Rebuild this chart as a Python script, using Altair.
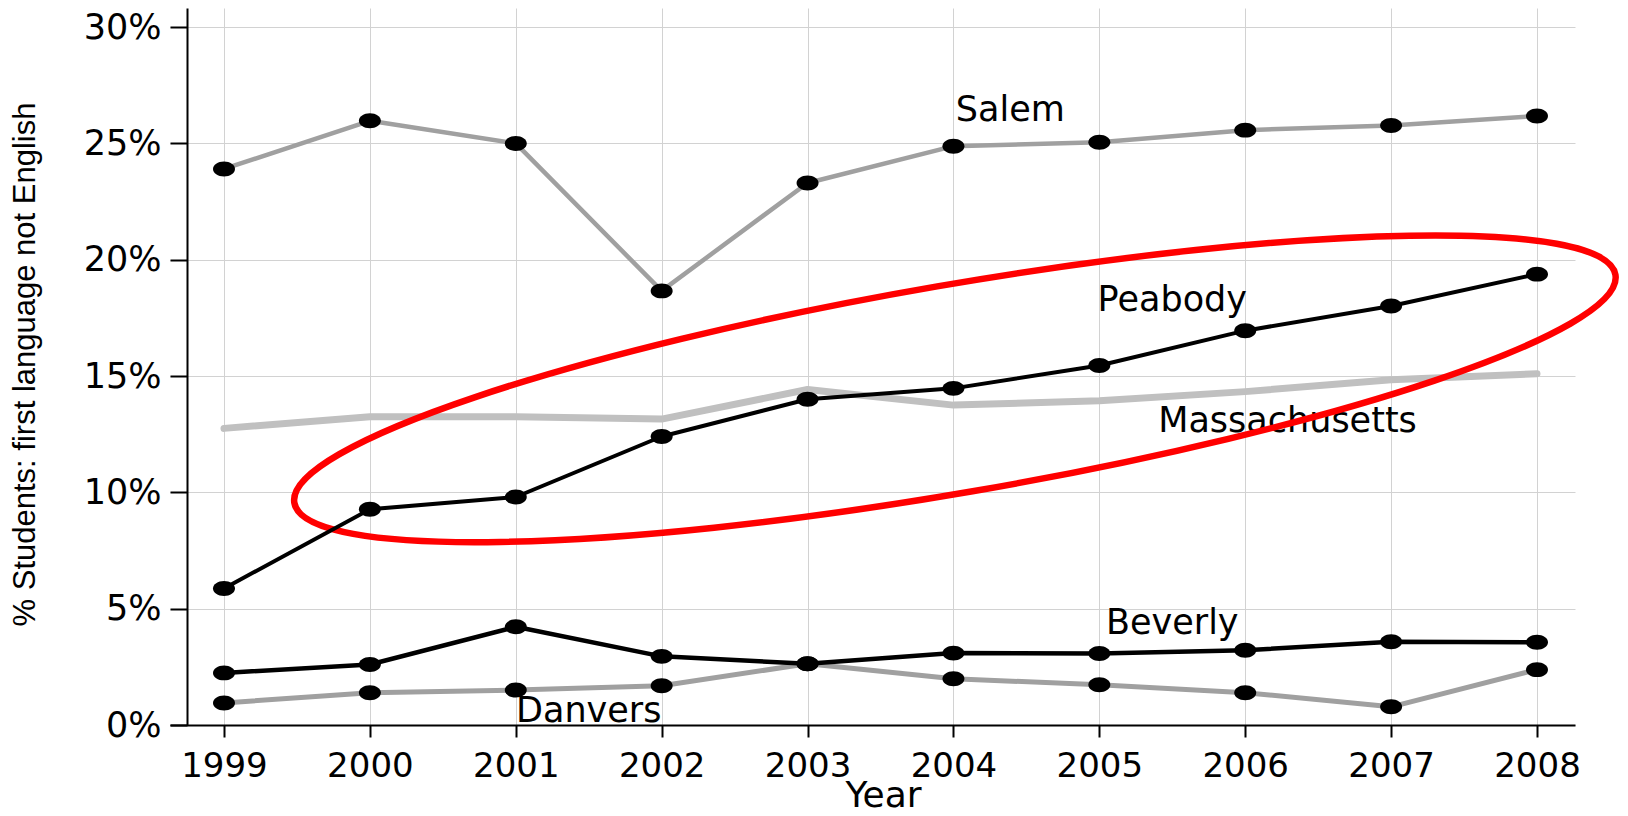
import altair as alt
import pandas as pd

# ---------------- data ----------------
years = [1999, 2000, 2001, 2002, 2003, 2004, 2005, 2006, 2007, 2008]
salem = [23.9, 25.97, 25.0, 18.66, 23.3, 24.88, 25.05, 25.57, 25.77, 26.18]
peabody = [5.87, 9.27, 9.8, 12.4, 14.0, 14.47, 15.45, 16.95, 18.01, 19.38]
massachusetts = [12.75, 13.25, 13.25, 13.15, 14.42, 13.75, 13.94, 14.33, 14.84, 15.1]
beverly = [2.24, 2.6, 4.22, 2.95, 2.63, 3.09, 3.07, 3.21, 3.58, 3.56]
danvers = [0.95, 1.39, 1.5, 1.69, 2.63, 1.99, 1.73, 1.39, 0.78, 2.38]

series_names = ["Massachusetts", "Salem", "Danvers", "Beverly", "Peabody"]
series_values = [massachusetts, salem, danvers, beverly, peabody]

y_ticks = [0, 5, 10, 15, 20, 25, 30]

# series name labels (anchor in data coordinates)
label_names = ["Salem", "Peabody", "Massachusetts", "Beverly", "Danvers"]
label_year = [2004.39, 2005.5, 2006.29, 2005.5, 2001.5]
label_pct = [26.42, 18.27, 13.05, 4.38, 0.62]

# red highlight ring centre (data coordinates)
ring_year = [2004.01]
ring_pct = [14.45]

rows = []
for name, vals in zip(series_names, series_values):
    for yr, v in zip(years, vals):
        rows.append({"series": name, "year": yr, "pct": v})
df = pd.DataFrame(rows)
labels_df = pd.DataFrame({"name": label_names, "year": label_year, "pct": label_pct})
ring_df = pd.DataFrame({"year": ring_year, "pct": ring_pct})

# ---------------- shapes ----------------
K = 0.5523


def ellipse_path(rx, ry):
    f = lambda v: f"{v:.4f}"
    return (
        f"M{f(rx)},0 C{f(rx)},{f(K*ry)} {f(K*rx)},{f(ry)} 0,{f(ry)} "
        f"C{f(-K*rx)},{f(ry)} {f(-rx)},{f(K*ry)} {f(-rx)},0 "
        f"C{f(-rx)},{f(-K*ry)} {f(-K*rx)},{f(-ry)} 0,{f(-ry)} "
        f"C{f(K*rx)},{f(-ry)} {f(rx)},{f(-K*ry)} {f(rx)},0 Z"
    )


marker_shape = ellipse_path(1, 0.68)
ring_shape = ellipse_path(1, 0.1551)

# ---------------- scales / axes ----------------
x_scale = alt.Scale(domain=[1998.6299, 2008.2605], nice=False, zero=False)
y_scale = alt.Scale(domain=[0, 30.82], nice=False, zero=True)

x_axis = alt.Axis(
    values=years, format="d", title="Year",
    grid=True, gridColor="#d2d2d2", gridWidth=1,
    domainColor="black", domainWidth=2,
    tickColor="black", tickWidth=2, tickSize=12,
    labelFont="DejaVu Sans", labelFontSize=34, labelColor="black",
    labelPadding=12, labelFlush=False, labelOverlap=False,
    titleFont="DejaVu Sans", titleFontSize=36, titleFontWeight="normal",
    titleColor="black", titleX=713, titleY=81,
    titleAlign="center", titleBaseline="alphabetic",
)
y_axis = alt.Axis(
    values=y_ticks, labelExpr="datum.value + '%'",
    title="% Students: first language not English",
    offset=-17,
    grid=True, gridColor="#d2d2d2", gridWidth=1,
    domainColor="black", domainWidth=2,
    tickColor="black", tickWidth=2, tickSize=17,
    labelFont="DejaVu Sans", labelFontSize=35, labelColor="black",
    labelPadding=9, labelOverlap=False,
    titleFont="Liberation Sans", titleFontSize=31, titleFontWeight="normal",
    titleColor="black", titleX=-162, titleY=356, titleAngle=270,
    titleAlign="center", titleBaseline="middle",
)

X = alt.X("year:Q", scale=x_scale, axis=x_axis)
Y = alt.Y("pct:Q", scale=y_scale, axis=y_axis)

base = alt.Chart(df).encode(x=X, y=Y)


def line(name, color, width):
    return base.transform_filter(alt.datum.series == name).mark_line(
        color=color, strokeWidth=width, strokeCap="round", strokeJoin="round"
    )


def points(name):
    return base.transform_filter(alt.datum.series == name).mark_point(
        shape=marker_shape, size=484, filled=True, color="black", opacity=1
    )


mass_line = line("Massachusetts", "#c0c0c0", 7)

lbl_base = alt.Chart(labels_df).encode(x=X, y=Y, text="name:N")
mass_label = lbl_base.transform_filter(alt.datum.name == "Massachusetts").mark_text(
    font="DejaVu Sans", fontSize=35, color="black", align="center", baseline="middle"
)
other_labels = lbl_base.transform_filter(alt.datum.name != "Massachusetts").mark_text(
    font="DejaVu Sans", fontSize=35, color="black", align="center", baseline="middle"
)

ring = alt.Chart(ring_df).mark_point(
    shape=ring_shape, size=1797281, filled=False, color="#ff0000",
    strokeWidth=6.5, angle=350.2, opacity=1
).encode(x=X, y=Y)

chart = alt.layer(
    mass_line,
    mass_label,
    ring,
    line("Salem", "#a0a0a0", 4.5), points("Salem"),
    line("Danvers", "#a0a0a0", 5), points("Danvers"),
    line("Beverly", "black", 4.5), points("Beverly"),
    line("Peabody", "black", 4), points("Peabody"),
    other_labels,
).properties(
    width=1405, height=717,
    autosize=alt.AutoSizeParams(type="none"),
    padding={"left": 162, "top": 0, "right": 45, "bottom": 95},
    background="white",
).configure_view(strokeWidth=0)

chart.save("out.html", embed_options={"renderer": "svg", "actions": False})
